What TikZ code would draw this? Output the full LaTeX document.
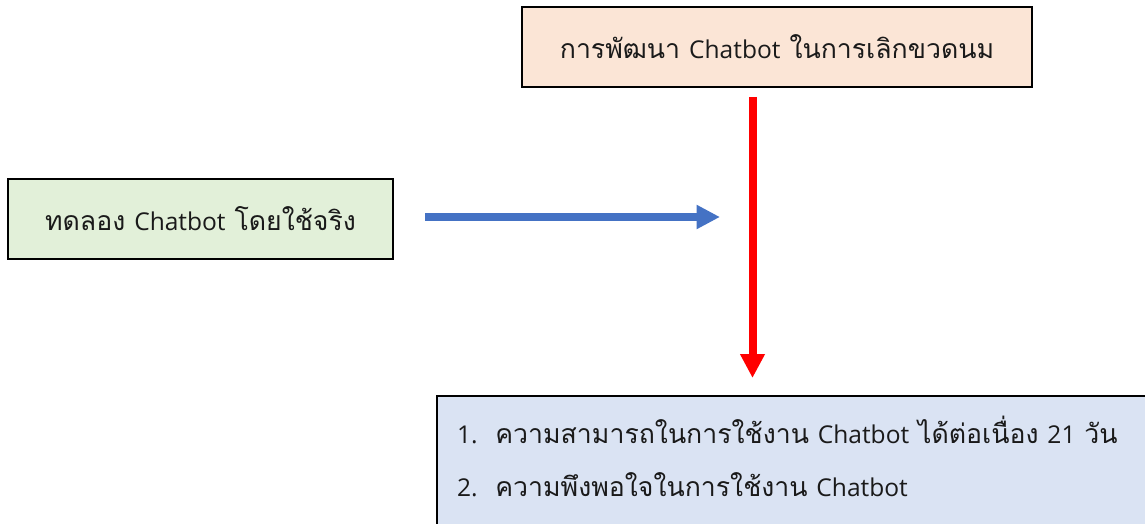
\documentclass[tikz,border=0pt]{standalone}
\usepackage{fontspec}
\newfontfamily\thaifont[Script=Thai]{Loma}
\newfontfamily\latfont[Scale=0.92]{Open Sans}
\newcommand{\lat}[1]{{\latfont #1}}
\usetikzlibrary{arrows.meta}
\definecolor{peach}{HTML}{FBE5D6}
\definecolor{lgreen}{HTML}{E2F0D9}
\definecolor{lblue}{HTML}{DAE3F3}
\definecolor{arrblue}{HTML}{4472C4}
\definecolor{txt}{HTML}{1A1A1A}
\tikzset{
  box/.style={draw=black, line width=1.5pt, rectangle, inner sep=0pt, text=txt, font=\thaifont\fontsize{20}{24}\selectfont},
  bluearrow/.style={draw=arrblue, line width=6pt, -{Triangle[length=17.5pt,width=17pt]}},
  redarrow/.style={draw=red, line width=6pt, -{Triangle[length=18pt,width=17.5pt]}}
}
\begin{document}
\begin{tikzpicture}[x=0.75pt,y=-0.75pt]
\useasboundingbox (0,0) rectangle (1145,524);
\begin{scope}
\clip (0,0) rectangle (1145,524);
\node[box, fill=peach, minimum width=510*0.75pt, minimum height=80*0.75pt] (top) at (777,47) {การพัฒนา \lat{Chatbot} ในการเลิกขวดนม};
\node[box, fill=lgreen, minimum width=385*0.75pt, minimum height=80*0.75pt] (left) at (200.5,219) {ทดลอง \lat{Chatbot} โดยใช้จริง};
\node[box, fill=lblue, anchor=north west, minimum width=714*0.75pt, minimum height=140*0.75pt, inner xsep=20*0.75pt, text width=720*0.75pt, align=left, font=\thaifont\fontsize{20}{39.75}\selectfont] (bottom) at (436,395) {\lat{1.}\ \ ความสามารถในการใช้งาน \lat{Chatbot} ได้ต่อเนื่อง \lat{21} วัน\\\lat{2.}\ \ ความพึงพอใจในการใช้งาน \lat{Chatbot}\rule[-14pt]{0pt}{1pt}};
\end{scope}
\coordinate (bs) at (425,217);
\coordinate (be) at (720,217);
\coordinate (rs) at (752.5,97);
\coordinate (re) at (752.5,378);
\draw[bluearrow] (bs) -- (be);
\draw[redarrow] (rs) -- (re);
\end{tikzpicture}
\end{document}
